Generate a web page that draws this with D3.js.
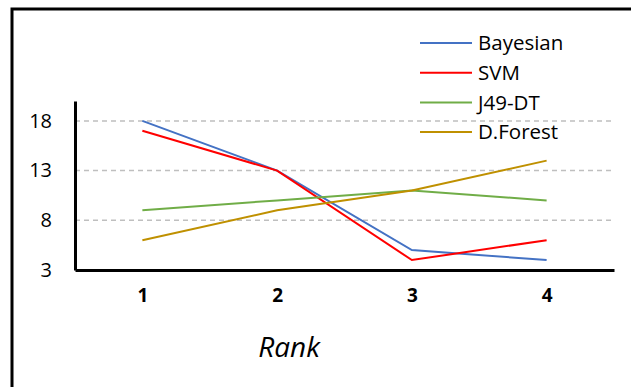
<!DOCTYPE html>
<html lang="en">
<head>
    <meta charset="UTF-8">
    <title>Rank chart</title>
    <script src="https://d3js.org/d3.v7.min.js"></script>
    <style>
        body { margin: 0; background: #fff; }
        text { font-family: "Open Sans", sans-serif; }
    </style>
</head>
<body>
    <svg id="chart" width="631" height="387"></svg>

    <script>
        // Data
        const ranks = [1, 2, 3, 4];
        const seriesNames = ["Bayesian", "SVM", "J49-DT", "D.Forest"];
        const bayesian = [18, 13, 5, 4];
        const svm = [17, 13, 4, 6];
        const j49dt = [9, 10, 11, 10];
        const dforest = [6, 9, 11, 14];
        const yTicks = [3, 8, 13, 18];

        const seriesValues = [bayesian, svm, j49dt, dforest];
        const colors = ["#4472C4", "#FF0000", "#70AD47", "#BF9000"];

        const svg = d3.select("#chart");

        // outer frame (runs off the right and bottom edge)
        svg.append("rect")
            .attr("x", 12)
            .attr("y", 9)
            .attr("width", 660)
            .attr("height", 420)
            .attr("fill", "none")
            .attr("stroke", "#000")
            .attr("stroke-width", 3);

        const plotLeft = 75, plotRight = 614, plotTop = 101, plotBottom = 270;

        const x = d3.scalePoint()
            .domain(ranks)
            .range([plotLeft, plotRight])
            .padding(0.5);

        const y = d3.scaleLinear()
            .domain([3, 20])
            .range([plotBottom, plotTop]);

        // dashed gridlines
        svg.append("g")
            .selectAll("line")
            .data(yTicks.filter(d => d !== 3))
            .enter().append("line")
            .attr("x1", plotLeft)
            .attr("x2", plotRight - 1)
            .attr("y1", d => y(d))
            .attr("y2", d => y(d))
            .attr("stroke", "#BFBFBF")
            .attr("stroke-width", 1.5)
            .attr("stroke-dasharray", "5,4");

        // y axis
        const yAxis = d3.axisLeft(y)
            .tickValues(yTicks)
            .tickSize(0)
            .tickPadding(23);

        const gy = svg.append("g")
            .attr("transform", `translate(${plotLeft},0)`)
            .call(yAxis);
        gy.select(".domain").attr("stroke", "#000").attr("stroke-width", 3);
        gy.selectAll("text")
            .style("font-family", "Open Sans, sans-serif")
            .style("font-size", "20px")
            .attr("fill", "#000");

        // x axis
        const xAxis = d3.axisBottom(x)
            .tickSize(0)
            .tickPadding(19);

        const gx = svg.append("g")
            .attr("transform", `translate(0,${plotBottom})`)
            .call(xAxis);
        gx.select(".domain").attr("stroke", "#000").attr("stroke-width", 3);
        gx.selectAll("text")
            .style("font-family", "Open Sans, sans-serif")
            .style("font-size", "19px")
            .style("font-weight", "bold")
            .attr("fill", "#000");

        // series lines
        const line = d3.line()
            .x((d, i) => x(ranks[i]))
            .y(d => y(d));

        svg.append("g")
            .selectAll("path")
            .data(seriesValues)
            .enter().append("path")
            .attr("d", d => line(d))
            .attr("fill", "none")
            .attr("stroke", (d, i) => colors[i])
            .attr("stroke-width", 2);

        // axis title
        svg.append("text")
            .attr("x", 289)
            .attr("y", 357)
            .attr("text-anchor", "middle")
            .style("font-size", "28px")
            .style("font-style", "italic")
            .text("Rank");

        // legend
        const legend = svg.append("g")
            .attr("transform", "translate(420,43)");

        const item = legend.selectAll("g")
            .data(seriesNames)
            .enter().append("g")
            .attr("transform", (d, i) => `translate(0,${i * 29.7})`);

        item.append("line")
            .attr("x1", 0)
            .attr("x2", 52)
            .attr("stroke", (d, i) => colors[i])
            .attr("stroke-width", 2);

        item.append("text")
            .attr("x", 58)
            .attr("dy", "0.35em")
            .style("font-size", "20.5px")
            .text(d => d);
    </script>
</body>
</html>
